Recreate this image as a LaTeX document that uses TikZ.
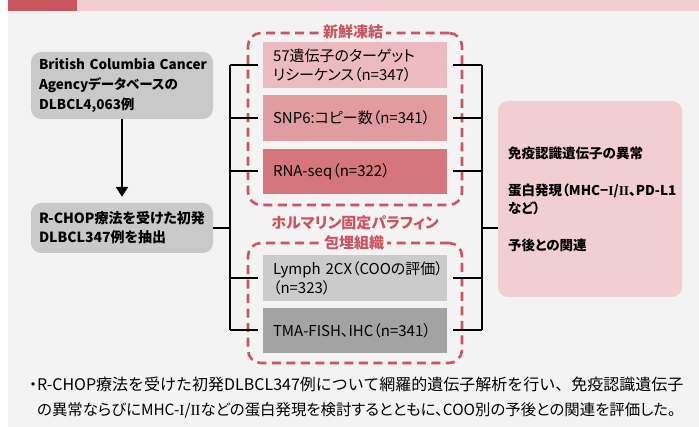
\documentclass[tikz,border=0pt]{standalone}
\usepackage{fontspec}
\setmainfont{Noto Sans CJK JP}
\newfontfamily\pfont{Noto Sans CJK JP}[RawFeature=+palt]
\newfontfamily\romfont{Liberation Serif}
\newcommand{\rnOne}{{\romfont I}}
\newcommand{\rnTwo}{{\romfont I\kern-0.3pt I}}
\exhyphenpenalty=10000
\hyphenpenalty=10000
\usetikzlibrary{arrows.meta}
\definecolor{banddark}{HTML}{C8555E}
\definecolor{bandlight}{HTML}{EFCDD1}
\definecolor{bgc}{HTML}{F3F3F3}
\definecolor{grayboxc}{HTML}{C9C9C9}
\definecolor{boxA}{HTML}{EBBBBF}
\definecolor{boxB}{HTML}{E09CA0}
\definecolor{boxC}{HTML}{D4767C}
\definecolor{boxD}{HTML}{CBCBCB}
\definecolor{boxE}{HTML}{A3A3A3}
\definecolor{resc}{HTML}{F0CED2}
\definecolor{redc}{HTML}{CC5461}
\begin{document}
\begin{tikzpicture}[x=1pt,y=-1pt,
  gbox/.style={fill=grayboxc, rounded corners=10pt, minimum width=182pt, text width=166pt, inner xsep=8pt, inner ysep=0pt, align=left, font=\pfont\bfseries\fontsize{13.5}{20}\selectfont},
  mbox/.style={minimum width=184pt, minimum height=46pt, text width=164pt, inner xsep=10pt, inner ysep=0pt, align=left, font=\pfont\fontsize{15}{19}\selectfont},
  dbox/.style={draw=redc, line width=2.6pt, dash pattern=on 9pt off 5.5pt, rounded corners=13pt, minimum width=214pt},
  dtitle/.style={fill=bgc, text=redc, inner xsep=3pt, inner ysep=1pt, font=\pfont\bfseries\fontsize{15}{18}\selectfont},
  conn/.style={line width=2pt, black}]
\useasboundingbox (0,0) rectangle (699,427);
\fill[bandlight] (77,0) rectangle (699,11);
\fill[banddark] (8,0) rectangle (77,11);
\fill[bgc] (8,11) rectangle (699,427);

% left boxes
\node[gbox, minimum height=67pt] (src) at (122,85.5) {\mbox{British Columbia Cancer}\\Agencyデータベースの\\DLBCL4,063例};
\node[gbox, minimum height=50pt, font=\pfont\bfseries\fontsize{14}{19}\selectfont] (sel) at (122,228) {R-CHOP療法を受けた初発\\DLBCL347例を抽出};
\draw[conn, -{Triangle[width=12pt,length=10pt]}, shorten >=6pt] (src.south) -- (sel.north);

% dashed groups
\node[dbox, minimum height=172pt] (fresh) at (355,119) {};
\node[dbox, minimum height=120pt] (ffpe) at (355,303) {};
\node[dtitle] (tfresh) at (353,32) {新鮮凍結};
\node[dtitle, fill=none] (tffpe1) at (355,223) {ホルマリン固定パラフィン};
\node[dtitle] (tffpe2) at (354,243) {包埋組織};

% middle boxes
\node[mbox, fill=boxA] (tgt) at (355,65) {57遺伝子のターゲット\\リシーケンス（n=347）};
\node[mbox, fill=boxB] (snp) at (355,118) {SNP6:コピー数（n=341）};
\node[mbox, fill=boxC, minimum height=45pt] (rna) at (355,171.5) {RNA-seq（n=322）};
\node[mbox, fill=boxD] (lym) at (355,278) {\mbox{Lymph 2CX（COOの評価）}\\（n=323）};
\node[mbox, fill=boxE, minimum height=45pt] (tma) at (355,330.5) {TMA-FISH、IHC（n=341）};

% result box
\node[fill=resc, rounded corners=10pt, minimum width=184pt, minimum height=196pt] (res) at (590,199) {};
\node[anchor=west, align=left, inner sep=0pt, font=\pfont\bfseries\fontsize{13.5}{18}\selectfont] (restext) at (508,199.5)
  {免疫認識遺伝子の異常\\[19pt]蛋白発現（MHC−\rnOne/\rnTwo、PD-L1\\など）\\[19pt]予後との関連};

% brackets
\coordinate (lt) at (230,65);
\coordinate (lb) at (230,330.5);
\coordinate (lm) at (230,228);
\coordinate (rt) at (482,65);
\coordinate (rb) at (482,330.5);
\coordinate (rm) at (482,228);
\draw[conn] (lt) -- (lb);
\draw[conn] (rt) -- (rb);
\draw[conn] (sel.east) -- (lm);
\draw[conn] (rm) -- (rm -| res.west);
\foreach \b in {tgt,snp,rna,lym,tma}{
  \draw[conn] (\b.west -| lt) -- ([xshift=-5pt]\b.west);
  \draw[conn] ([xshift=6pt]\b.east) -- (\b.east -| rt);
}

% note
\node[anchor=west, align=left, inner sep=0pt, font=\fontsize{16}{25}\selectfont] (note) at (29,397.5)
  {\makebox[8pt][c]{・}R-CHOP療法を受けた初発DLBCL347例について網羅的遺伝子解析を行い、免疫認識遺伝子\\
   \hspace*{8pt}{\pfont\fontsize{15.4}{25}\selectfont の異常ならびにMHC-\rnOne/\rnTwo などの蛋白発現を検討するとともに、COO別の予後との関連を評価した。}};
\end{tikzpicture}
\end{document}
